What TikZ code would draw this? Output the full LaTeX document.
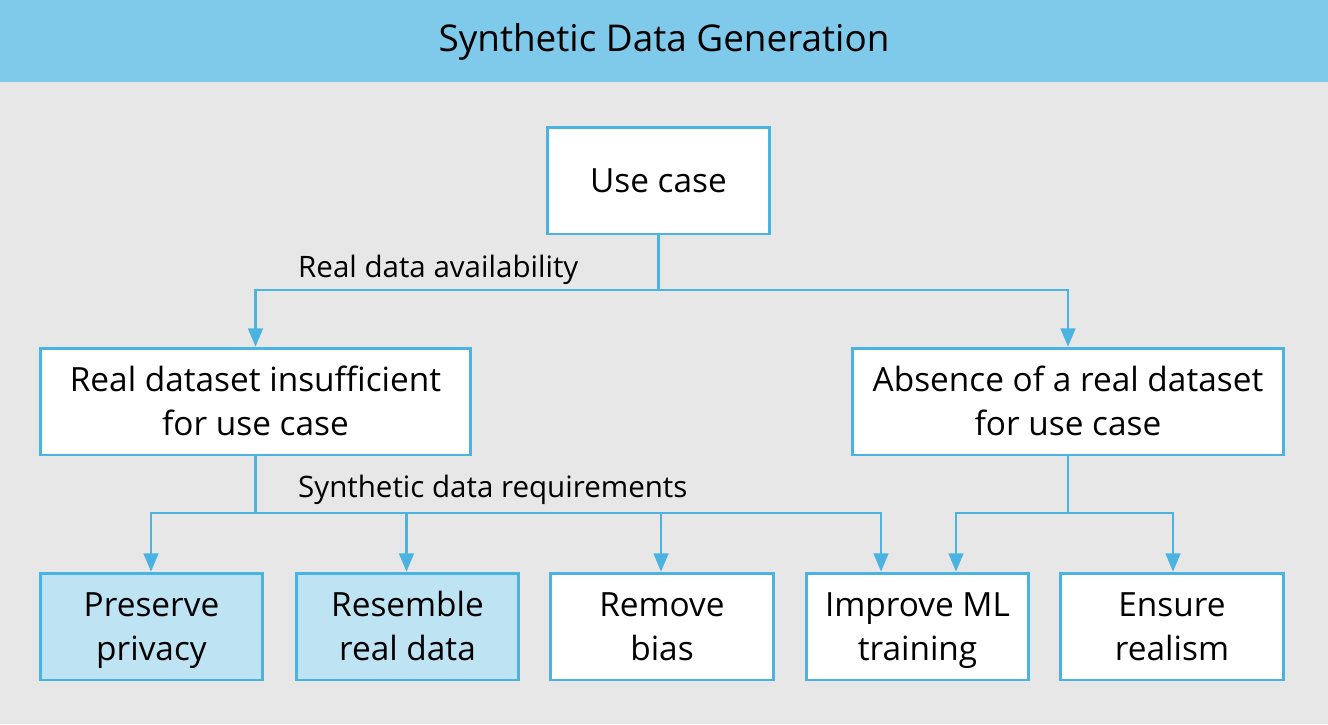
\documentclass[tikz,border=0pt]{standalone}
\usepackage{fontspec}
\setmainfont{Open Sans}
\usetikzlibrary{positioning,calc}
\usetikzlibrary{arrows}

\definecolor{headblue}{HTML}{7FC9EB}
\definecolor{backgray}{HTML}{E7E7E7}
\definecolor{lineblue}{HTML}{4AB3E2}
\definecolor{fillblue}{HTML}{BEE3F3}

\begin{document}
\begin{tikzpicture}[>=triangle 45, x=0.02cm, y=-0.02cm,
	box/.style = {draw=lineblue, line width=1.7pt, fill=white, minimum width=4.46cm, minimum height=2.14cm, align=center, font=\fontsize{19}{24.5}\selectfont, text height=45.5pt, execute at end node=\strut},
	wide/.style = {box, minimum width=8.62cm},
	keep/.style = {box, fill=fillblue},
	link/.style = {draw=lineblue, line width=1.4pt},
	tag/.style = {anchor=west, font=\fontsize{16.8}{20}\selectfont}]
\useasboundingbox (0,0) rectangle (1328,724);
\fill [backgray] (0,0) rectangle (1328,724);
\fill [headblue] (0,0) rectangle (1328,82);
\node [font=\fontsize{21}{26}\selectfont] (title) at (664,42) {Synthetic Data Generation};

% top level
\node [box, text height=21pt] (use) at (658.5,180.5) {Use case};
\node [wide] (real) at (255.5,401.5) {Real dataset insufficient\\for use case};
\node [wide] (none) at (1068,401.5) {Absence of a real dataset\\for use case};

% requirements
\node [keep] (priv) at (151.5,626.5) {Preserve\\privacy};
\node [keep] (resem) at (407.5,626.5) {Resemble\\real data};
\node [box] (bias) at (662,626.5) {Remove\\bias};
\node [box] (train) at (917.5,626.5) {Improve ML\\training};
\node [box] (realism) at (1172,626.5) {Ensure\\realism};

\coordinate (split) at (658.5,290);
\coordinate (reqs) at (255.5,513);
\coordinate (nreqs) at (1068,513);

\draw [link] (use) -- (split);
\draw [link, ->] (split) -| (real);
\draw [link, ->] (split) -| (none);
\node [tag] (avail) at (292,270) {Real data availability};

\draw [link] (real) -- (reqs);
\draw [link, ->] (reqs) -| ([xshift=-0.01cm]priv.north);
\draw [link, ->] (reqs) -| ([xshift=-0.02cm]resem.north);
\draw [link, ->] (reqs) -| ([xshift=-0.02cm]bias.north);
\draw [link, ->] (reqs) -| ([xshift=-0.73cm]train.north);
\node [tag] (needs) at (292,490) {Synthetic data requirements};

\draw [link] (none) -- (nreqs);
\draw [link, ->] (nreqs) -| ([xshift=0.77cm]train.north);
\draw [link, ->] (nreqs) -| ([xshift=0.02cm]realism.north);

\end{tikzpicture}
\end{document}
